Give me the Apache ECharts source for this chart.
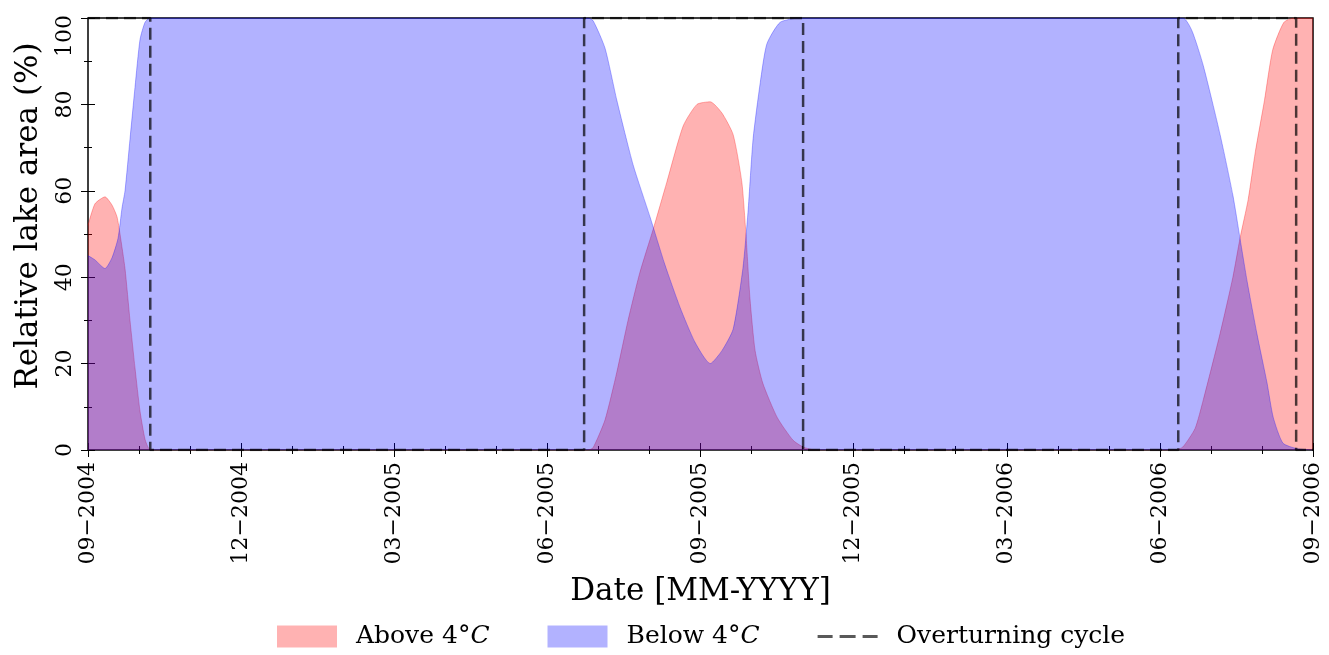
<!DOCTYPE html>
<html>
<head>
<meta charset="utf-8">
<script src="https://cdn.jsdelivr.net/npm/echarts@6/dist/echarts.min.js"></script>
<style>
  html, body { margin: 0; padding: 0; background: #fff; }
  #chart { width: 1329px; height: 655px; }
</style>
</head>
<body>
<div id="chart"></div>
<script>
// x values are months since 09-2004
var xTickLabels = ['09\u22122004', '12\u22122004', '03\u22122005', '06\u22122005', '09\u22122005',
                   '12\u22122005', '03\u22122006', '06\u22122006', '09\u22122006'];

var aboveData = [
  [0, 52], [0.137, 57], [0.333, 58.6], [0.47, 56.7], [0.568, 54], [0.627, 50], [0.725, 42],
  [0.823, 30], [0.921, 19], [1.019, 9], [1.117, 2.5], [1.195, 0.3], [1.31, 0],
  [9.796, 0], [9.894, 0.5], [10.13, 7], [10.36, 18], [10.58, 30], [10.81, 41], [11.07, 51],
  [11.34, 62], [11.66, 75], [11.93, 80], [12.19, 80.6], [12.42, 78], [12.64, 73], [12.81, 62],
  [12.89, 50], [12.97, 35], [13.07, 23], [13.22, 15.5], [13.5, 7.6], [13.81, 2.3], [14.01, 0.7],
  [14.24, 0], [21.3, 0], [21.45, 0.7], [21.69, 5], [21.85, 11.6], [22.18, 27], [22.43, 40],
  [22.57, 49], [22.73, 58], [22.87, 69], [23.05, 81], [23.21, 92.6], [23.43, 99], [23.63, 100],
  [24, 100]
];

var belowData = [
  [0, 45], [0.137, 44], [0.333, 42], [0.47, 44.5], [0.588, 49], [0.666, 56], [0.725, 60],
  [0.823, 72], [0.921, 84], [1.019, 95], [1.117, 99], [1.215, 100],
  [9.796, 100], [9.9, 99.3], [10.13, 93], [10.36, 81], [10.68, 66], [11.01, 54], [11.3, 43],
  [11.6, 33], [11.89, 25], [12.19, 20], [12.42, 23], [12.64, 28], [12.83, 42], [12.93, 55],
  [13.03, 72], [13.17, 85], [13.3, 94], [13.56, 99], [13.95, 100],
  [21.45, 100], [21.63, 97], [21.85, 89], [22.18, 73], [22.43, 59], [22.57, 49], [22.71, 39],
  [22.9, 27], [23.1, 15.5], [23.22, 7.6], [23.41, 1.6], [23.69, 0.3], [24, 0]
];

// overturning step curve (months, 0/100), switching at 1.22, 9.72, 14.01, 21.36, 23.67
var overturnData = [
  [0, 100], [1.22, 100], [1.22, 0], [9.72, 0], [9.72, 100], [14.01, 100], [14.01, 0],
  [21.36, 0], [21.36, 100], [23.67, 100], [23.67, 0], [24, 0]
];

var serif = 'DejaVu Serif';
var chart = echarts.init(document.getElementById('chart'));

var tickCommon = { show: true, inside: true, length: 7, lineStyle: { color: '#000', width: 1 } };
var minorCommon = { show: true, length: 4, lineStyle: { color: '#000', width: 1 } };
var dashIcon = 'path://M0,0h15v3h-15z M22,0h16v3h-16z M45,0h15v3h-15z';

chart.setOption({
  animation: false,
  textStyle: { fontFamily: serif },
  grid: {
    left: 88, right: 16, top: 18, bottom: 205, outerBoundsMode: 'none',
    show: true, borderColor: '#000', borderWidth: 1.5
  },
  legend: {
    bottom: 1,
    left: 272,
    itemWidth: 60,
    itemHeight: 22,
    itemGap: 58,
    textStyle: {
      fontFamily: serif, fontSize: 25, color: '#000', padding: [0, 0, 0, 14],
      rich: { n: { fontFamily: serif, fontSize: 25 }, i: { fontFamily: serif, fontSize: 25, fontStyle: 'italic' } }
    },
    formatter: function (name) {
      if (name === 'Above 4°C') return '{n|Above 4°}{i|C}';
      if (name === 'Below 4°C') return '{n|Below 4°}{i|C}';
      return name;
    },
    data: [
      { name: 'Above 4°C', icon: 'rect', itemStyle: { color: 'rgba(255,0,0,0.3)' } },
      { name: 'Below 4°C', icon: 'rect', itemStyle: { color: 'rgba(0,0,255,0.3)' } },
      { name: 'Overturning cycle', icon: dashIcon, itemStyle: { color: 'rgba(0,0,0,0.65)' } }
    ]
  },
  xAxis: [{
    type: 'value', min: 0, max: 24, interval: 3,
    name: 'Date [MM-YYYY]', nameLocation: 'middle', nameGap: 126,
    nameTextStyle: { fontFamily: serif, fontSize: 31, color: '#000' },
    axisLine: { show: false },
    axisTick: tickCommon,
    minorTick: Object.assign({ splitNumber: 3 }, minorCommon),
    splitLine: { show: false },
    axisLabel: {
      rotate: 90, margin: 12, fontFamily: serif, fontSize: 22, color: '#000',
      formatter: function (v) { return xTickLabels[Math.round(v / 3)]; }
    }
  }, {
    type: 'value', min: 0, max: 24, interval: 3, position: 'top',
    axisLine: { show: false }, axisTick: tickCommon,
    minorTick: Object.assign({ splitNumber: 3 }, minorCommon),
    splitLine: { show: false }, axisLabel: { show: false }
  }],
  yAxis: [{
    type: 'value', min: 0, max: 100, interval: 20,
    name: 'Relative lake area (%)', nameLocation: 'middle', nameGap: 44,
    nameTextStyle: { fontFamily: serif, fontSize: 31, color: '#000', padding: [0, 0, 0, 36] },
    axisLine: { show: false },
    axisTick: tickCommon,
    minorTick: Object.assign({ splitNumber: 2 }, minorCommon),
    splitLine: { show: false },
    axisLabel: {
      rotate: 90, margin: 12, fontFamily: serif, fontSize: 22, color: '#000',
      formatter: function (v) { return v === 100 ? '{top|100}' : String(v); },
      rich: { top: { fontFamily: serif, fontSize: 22, color: '#000', padding: [0, 36, 0, 0] } }
    }
  }, {
    type: 'value', min: 0, max: 100, interval: 20, position: 'right',
    axisLine: { show: false }, axisTick: tickCommon,
    minorTick: Object.assign({ splitNumber: 2 }, minorCommon),
    splitLine: { show: false }, axisLabel: { show: false }
  }],
  series: [{
    name: 'Above 4°C', type: 'line', data: aboveData, smooth: 0.2, symbol: 'none',
    itemStyle: { color: 'rgba(255,0,0,0.3)' },
    lineStyle: { color: 'rgba(255,0,0,0.3)', width: 1 },
    areaStyle: { color: 'rgba(255,0,0,0.3)', opacity: 1 },
    z: 1
  }, {
    name: 'Below 4°C', type: 'line', data: belowData, smooth: 0.2, symbol: 'none',
    itemStyle: { color: 'rgba(0,0,255,0.3)' },
    lineStyle: { color: 'rgba(0,0,255,0.3)', width: 1 },
    areaStyle: { color: 'rgba(0,0,255,0.3)', opacity: 1 },
    z: 2
  }, {
    name: 'Overturning cycle', type: 'line', data: overturnData, symbol: 'none',
    itemStyle: { color: 'rgba(0,0,0,0.7)' },
    lineStyle: { color: 'rgba(0,0,0,0.7)', width: 2.5, type: [12, 6] },
    z: 3
  }]
});
</script>
</body>
</html>
